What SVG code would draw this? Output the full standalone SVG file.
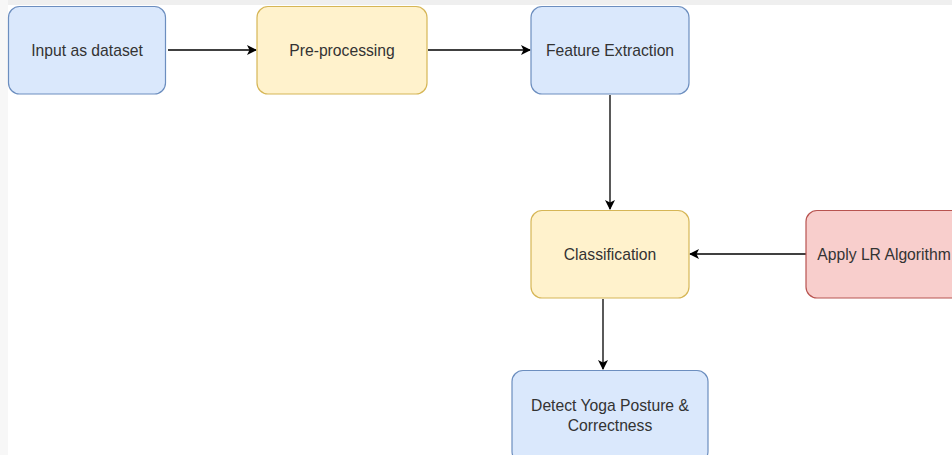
<svg xmlns="http://www.w3.org/2000/svg" width="952" height="455" viewBox="0 0 952 455">
<style>
.n rect{stroke-width:1.2}
.blue{fill:#dae8fc;stroke:#6c8ebf}
.yel{fill:#fff2cc;stroke:#d6b656}
.red{fill:#f8cecc;stroke:#b85450}
text{font-family:"Liberation Sans",Arial,sans-serif;font-size:15.7px;fill:#333;text-anchor:middle;dominant-baseline:central}
.c path{fill:none;stroke:#000;stroke-width:1.3}
</style>
<defs>
<marker id="a" viewBox="0 0 10 10" refX="9" refY="5" markerWidth="10" markerHeight="10" markerUnits="userSpaceOnUse" orient="auto">
<path d="M0,0 L10,5 L0,10 L2.5,5 Z" fill="#000"/>
</marker>
</defs>
<rect x="0" y="0" width="952" height="455" fill="#fff"/>
<rect x="0" y="0" width="952" height="5" fill="#efefef"/>
<rect x="0" y="0" width="8" height="455" fill="#f7f7f7"/>
<g class="c">
<path d="M168,50 H256" marker-end="url(#a)"/>
<path d="M428,50 H530" marker-end="url(#a)"/>
<path d="M610,95 V209" marker-end="url(#a)"/>
<path d="M806,254 H690" marker-end="url(#a)"/>
<path d="M603,299 V369" marker-end="url(#a)"/>
</g>
<g id="input" class="n"><rect class="blue" x="8.5" y="6.5" width="157" height="87.5" rx="11"/><text x="87" y="50">Input as dataset</text></g>
<g id="pre" class="n"><rect class="yel" x="257" y="6.5" width="170" height="87.5" rx="11"/><text x="342" y="50">Pre-processing</text></g>
<g id="fe" class="n"><rect class="blue" x="531" y="6.5" width="158" height="87.5" rx="11"/><text x="610" y="50">Feature Extraction</text></g>
<g id="cls" class="n"><rect class="yel" x="531" y="210.5" width="158" height="87.5" rx="11"/><text x="610" y="254">Classification</text></g>
<g id="lr" class="n"><rect class="red" x="806" y="210.5" width="170" height="87.5" rx="11"/><text x="884" y="254">Apply LR Algorithm</text></g>
<g id="detect" class="n"><rect class="blue" x="512" y="370.5" width="196" height="92" rx="11"/><text x="610" y="405">Detect Yoga Posture &amp;</text><text x="610" y="425">Correctness</text></g>
</svg>
